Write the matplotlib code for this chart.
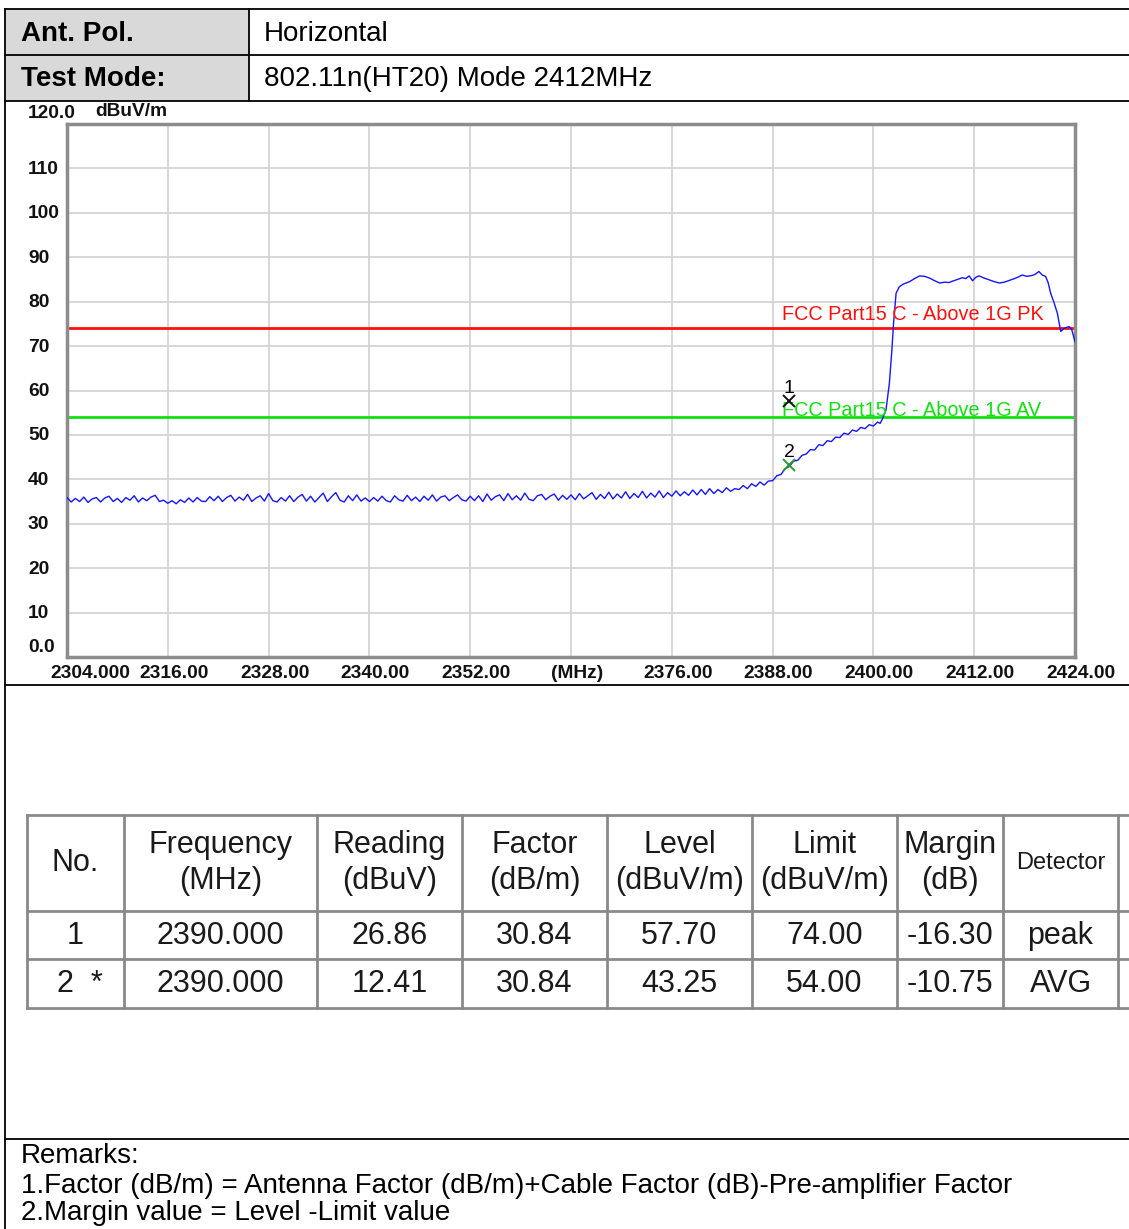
import matplotlib
matplotlib.use("Agg")
import matplotlib.pyplot as plt
import numpy as np
from matplotlib.patches import Rectangle

plt.rcParams["font.family"] = ["Liberation Sans", "DejaVu Sans"]

W, H = 1129, 1229

# header rows
header_keys = ["Ant. Pol.", "Test Mode:"]
header_values = ["Horizontal", "802.11n(HT20) Mode 2412MHz"]

# sweep: noise floor from 2304 MHz in 0.5 MHz steps
sweep_start = 2304.0
sweep_step = 0.5
noise_level = [
    35.9, 34.9, 35.7, 35.0, 36.0, 34.8, 35.6, 35.9, 34.9, 35.8, 36.2, 35.0,
    35.7, 34.8, 35.9, 35.3, 36.3, 34.9, 35.8, 35.2, 36.0, 36.4, 35.0, 35.3,
    34.6, 35.2, 34.5, 35.4, 34.8, 35.8, 34.9, 35.9, 35.1, 35.0, 36.1, 35.2,
    36.2, 35.0, 35.9, 36.4, 35.1, 36.0, 35.3, 36.6, 35.0, 35.8, 36.3, 35.1,
    36.8, 35.2, 34.9, 35.9, 35.1, 36.3, 35.0, 36.0, 36.6, 35.1, 36.2, 34.9,
    35.9, 36.9, 35.0, 36.1, 37.0, 35.3, 34.9, 36.3, 35.2, 36.5, 35.1, 35.8,
    35.0, 35.9, 35.1, 36.2, 35.2, 34.9, 36.3, 35.4, 35.1, 36.4, 35.2, 36.0,
    35.0, 36.2, 35.3, 36.5, 35.1, 36.0, 36.3, 35.2, 35.9, 36.5, 35.4, 35.1,
    36.2, 35.2, 36.3, 35.0, 36.7, 35.3, 36.1, 36.5, 35.2, 36.8, 35.4, 36.3,
    35.3, 36.9, 35.5, 35.2, 36.3, 36.6, 35.4, 36.2, 36.7, 35.3, 36.4, 35.5,
    36.5, 35.4, 36.8, 35.6, 36.3, 37.0, 35.5, 36.6, 35.7, 37.1, 35.6, 36.7,
    35.8, 37.2, 35.7, 36.8, 35.9, 37.3, 35.8, 36.9, 36.0, 37.4, 35.9, 37.0,
    36.2, 37.4, 36.3, 37.2, 36.4, 37.6, 36.5, 37.7, 36.6, 37.9, 36.8, 37.7,
    37.0, 38.1, 37.3, 37.9, 37.7, 38.6, 37.9, 39.0, 38.4, 39.4, 38.7, 39.6,
]

# band edge and carrier
edge_freq = [
    2388.0, 2388.5, 2389.0, 2389.5, 2390.0, 2390.5, 2391.0, 2391.5, 2392.0,
    2392.5, 2393.0, 2393.5, 2394.0, 2394.5, 2395.0, 2395.5, 2396.0, 2396.5,
    2397.0, 2397.5, 2398.0, 2398.5, 2399.0, 2399.5, 2400.0, 2400.5, 2400.8,
    2401.1, 2401.5, 2401.9, 2402.2, 2402.4, 2402.7, 2403.1, 2403.6, 2404.3,
    2404.9, 2405.5, 2406.1, 2406.7, 2407.3, 2407.9, 2408.5, 2409.0, 2409.4,
    2410.0, 2410.6, 2411.0, 2411.4, 2411.8, 2412.2, 2412.6, 2413.2, 2413.8,
    2414.4, 2415.0, 2415.6, 2416.2, 2416.8, 2417.3, 2417.7, 2418.3, 2418.9,
    2419.3, 2419.7, 2420.1, 2420.5, 2420.8, 2421.1, 2421.5, 2421.9, 2422.1,
    2422.3, 2422.7, 2423.0, 2423.3, 2423.6, 2424.0,
]
edge_level = [
    39.7, 40.8, 41.1, 42.4, 42.9, 44.1, 44.3, 45.4, 45.7,
    46.7, 46.6, 47.8, 47.6, 48.7, 48.5, 49.5, 49.4, 50.4,
    50.1, 51.1, 50.8, 51.7, 51.4, 52.3, 52.0, 52.9, 52.6,
    53.7, 55.6, 61.6, 69.1, 75.2, 81.9, 83.4, 84.0, 84.5,
    85.2, 85.8, 85.7, 85.3, 84.7, 84.2, 84.4, 84.3, 84.6,
    85.0, 85.4, 85.2, 85.8, 84.7, 85.5, 85.8, 85.3, 84.9,
    84.5, 84.2, 84.4, 84.8, 85.2, 85.6, 86.0, 85.7, 85.9,
    86.2, 86.8, 86.0, 85.7, 84.3, 81.9, 79.8, 77.4, 75.3,
    73.3, 74.0, 74.2, 74.4, 73.8, 71.0,
]

limit_pk = 74.0
limit_av = 54.0
limit_pk_label = "FCC Part15 C - Above 1G PK"
limit_av_label = "FCC Part15 C - Above 1G AV"

x_ticks = [2304, 2316, 2328, 2340, 2352, 2364, 2376, 2388, 2400, 2412, 2424]
x_labels = ["2304.000", "2316.00", "2328.00", "2340.00", "2352.00", "(MHz)",
            "2376.00", "2388.00", "2400.00", "2412.00", "2424.00"]
y_ticks = [0, 10, 20, 30, 40, 50, 60, 70, 80, 90, 100, 110, 120]
y_labels = ["0.0", "10", "20", "30", "40", "50", "60", "70", "80", "90",
            "100", "110", "120.0"]

# measured points
col_heads = ["No.", "Frequency\n(MHz)", "Reading\n(dBuV)", "Factor\n(dB/m)",
             "Level\n(dBuV/m)", "Limit\n(dBuV/m)", "Margin\n(dB)", "Detector"]
mark_no = ["1", "2  *"]
mark_freq = [2390.000, 2390.000]
mark_reading = [26.86, 12.41]
mark_factor = [30.84, 30.84]
mark_level = [57.70, 43.25]
mark_limit = [74.00, 54.00]
mark_margin = [-16.30, -10.75]
mark_detector = ["peak", "AVG"]

remarks = [
    "Remarks:",
    "1.Factor (dB/m) = Antenna Factor (dB/m)+Cable Factor (dB)-Pre-amplifier Factor",
    "2.Margin value = Level -Limit value",
]

fig = plt.figure(figsize=(W / 100, H / 100), dpi=100)

# page layer in pixel coordinates
lay = fig.add_axes([0, 0, 1, 1])
lay.set_xlim(0, W)
lay.set_ylim(H, 0)
lay.axis("off")

lay.add_patch(Rectangle((5, 9), 244, 92, facecolor="#d9d9d9", edgecolor="none"))
for y in [9, 55, 101, 685, 1139]:
    lay.plot([5, W], [y, y], color="black", lw=1.3)
lay.plot([5, 5], [9, H], color="black", lw=1.3)
lay.plot([249, 249], [9, 101], color="black", lw=1.3)
for y, k, v in zip([34, 79], header_keys, header_values):
    lay.text(21, y, k, fontsize=20, fontweight="bold", va="center")
    lay.text(264, y, v, fontsize=20, va="center")

# chart
ax = fig.add_axes([67 / W, (H - 657) / H, (1075 - 67) / W, (657 - 124) / H])
ax.set_xlim(2304, 2424)
ax.set_ylim(0, 120)
ax.set_xticks([])
ax.set_yticks([])
for s in ax.spines.values():
    s.set_color("#8c8c8c")
    s.set_linewidth(2.5)
for xt in x_ticks[1:-1]:
    ax.axvline(xt, color="#d4d4d4", lw=1.3, zorder=0)
for yt in y_ticks[1:-1]:
    ax.axhline(yt, color="#d4d4d4", lw=1.3, zorder=0)

freq = sweep_start + sweep_step * np.arange(len(noise_level))
trace_f = np.concatenate([freq, edge_freq])
trace_l = np.concatenate([noise_level, edge_level])
ax.plot(trace_f, trace_l, color="#1515ff", lw=1.0, zorder=3)

ax.axhline(limit_pk, color="#ff1010", lw=2, zorder=2)
ax.axhline(limit_av, color="#10e010", lw=2, zorder=2)
ax.text(2389.1, limit_pk + 1.0, limit_pk_label, color="#ff1010", fontsize=14.3,
        va="bottom", zorder=4)
ax.text(2389.1, limit_av - 0.7, limit_av_label, color="#10e010", fontsize=14.3,
        va="bottom", zorder=4)

mark_colors = ["#101010", "#2a9a2a"]
for i in range(len(mark_level)):
    ax.plot(mark_freq[i], mark_level[i], marker="x", color=mark_colors[i],
            ms=8, mew=1.4, zorder=5)
    ax.text(mark_freq[i], mark_level[i] + 0.8, str(i + 1), fontsize=14,
            ha="center", va="bottom", color="black", zorder=5)

tick_font = dict(fontsize=13.8, fontweight="bold", color="#111111")
for xt, lab in zip(x_ticks, x_labels):
    px = 67 + (xt - 2304) / 120 * (1075 - 67) + 6
    if lab == "2304.000":
        px = 90
    lay.text(px, 674, lab, ha="center", va="center", **tick_font)
for yt, lab in zip(y_ticks, y_labels):
    py = 657 - yt / 120 * (657 - 124)
    if yt == 120:
        py = 112
    elif yt == 0:
        py = 647
    lay.text(28, py + 1, lab, ha="left", va="center", **tick_font)
lay.text(95, 111, "dBuV/m", ha="left", va="center", **tick_font)

# result table
col_edges = [27, 124, 317, 462, 607, 752, 897, 1003, 1118]
row_edges = [815, 911, 959, 1008]
grid_c = "#8a8a8a"
for y in row_edges:
    lay.plot([27, W], [y, y], color=grid_c, lw=2)
for x in col_edges:
    lay.plot([x, x], [815, 1008], color=grid_c, lw=2)
centers = [(a + b) / 2 for a, b in zip(col_edges[:-1], col_edges[1:])]
for cx, head in zip(centers, col_heads):
    fs = 17 if head == "Detector" else 22
    lay.text(cx, 863, head, ha="center", va="center", fontsize=fs,
             color="#1a1a1a", linespacing=1.22)
for r in range(len(mark_no)):
    cells = [mark_no[r], f"{mark_freq[r]:.3f}", f"{mark_reading[r]:.2f}",
             f"{mark_factor[r]:.2f}", f"{mark_level[r]:.2f}",
             f"{mark_limit[r]:.2f}", f"{mark_margin[r]:.2f}", mark_detector[r]]
    cy = (row_edges[r + 1] + row_edges[r + 2]) / 2
    for j, (cx, txt) in enumerate(zip(centers, cells)):
        if j == 0 and "*" in txt:
            cx += 4
        lay.text(cx, cy + 1, txt, ha="center", va="center", fontsize=22,
                 color="#1a1a1a")

for y, line in zip([1156, 1186, 1213], remarks):
    lay.text(21, y, line, ha="left", va="center", fontsize=20)

fig.savefig("out.png", dpi=100)
